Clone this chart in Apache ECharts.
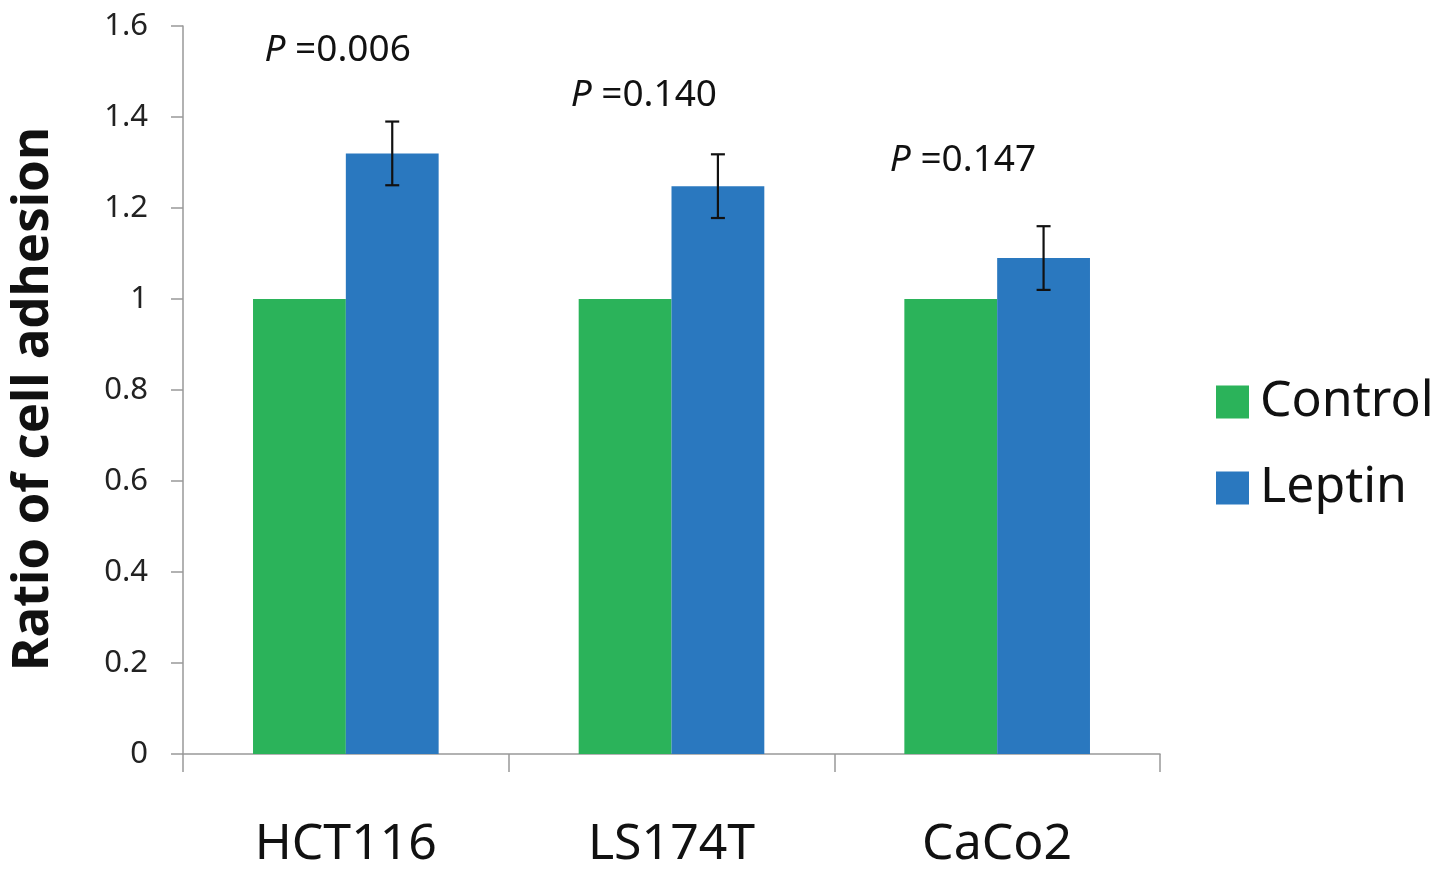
<!DOCTYPE html>
<html><head><meta charset="utf-8">
<script src="https://cdn.jsdelivr.net/npm/echarts@6/dist/echarts.min.js"></script>
<style>html,body{margin:0;padding:0;background:#fff}#c{width:1441px;height:873px}</style>
</head><body><div id="c"></div>
<script>
var categories = ['HCT116', 'LS174T', 'CaCo2'];
var controlValues = [1, 1, 1];
var leptinValues = [1.32, 1.248, 1.09];
var leptinErrors = [0.07, 0.07, 0.07];
var pLabels = ['0.006', '0.140', '0.147'];
var pLabelHeights = [1.547, 1.448, 1.305];
var yTicks = [0, 0.2, 0.4, 0.6, 0.8, 1, 1.2, 1.4, 1.6];

var FONT = '"Noto Sans", "Open Sans", sans-serif';
var GAP = 0.43;
var P_SHIFT = [-0.025, -0.085, -0.105];
var chart = echarts.init(document.getElementById('c'));
var errData = leptinValues.map(function (v, i) { return [i, v - leptinErrors[i], v + leptinErrors[i]]; });
var pData = pLabels.map(function (t, i) { return [i, pLabelHeights[i], t]; });

chart.setOption({
  animation: false,
  grid: { left: 182, right: 281, top: 26, bottom: 119 },
  legend: {
    orient: 'vertical', left: 1211, top: 372,
    itemWidth: 33, itemHeight: 33, itemGap: 36,
    icon: 'rect',
    textStyle: { fontFamily: FONT, fontSize: 50, color: '#111', lineHeight: 50, padding: [0, 0, 0, 6] },
    data: ['Control', 'Leptin']
  },
  xAxis: {
    type: 'category', data: categories,
    axisLine: { lineStyle: { color: '#999', width: 1.5 } },
    axisTick: { show: true, length: 18, lineStyle: { color: '#999', width: 1.5 } },
    axisLabel: { fontFamily: FONT, fontSize: 50, color: '#111', margin: 66 }
  },
  yAxis: {
    type: 'value', min: 0, max: 1.6, interval: 0.2,
    name: 'Ratio of cell adhesion', nameLocation: 'middle', nameGap: 124,
    nameTextStyle: { fontFamily: FONT, fontSize: 51, fontWeight: 'bold', color: '#111', padding: [0, 18, 0, 0] },
    axisLine: { show: true, lineStyle: { color: '#999', width: 1.5 } },
    axisTick: { show: true, length: 12, lineStyle: { color: '#999', width: 1.5 } },
    splitLine: { show: false },
    axisLabel: {
      fontFamily: FONT, fontSize: 31, color: '#222', margin: 35,
      formatter: function (v) { return String(Math.round(v * 10) / 10); }
    }
  },
  series: [
    { name: 'Control', type: 'bar', data: controlValues, barGap: '0%', barCategoryGap: (GAP * 100) + '%',
      itemStyle: { color: '#2bb35a' } },
    { name: 'Leptin', type: 'bar', data: leptinValues, barGap: '0%', barCategoryGap: (GAP * 100) + '%',
      itemStyle: { color: '#2a78bf' } },
    { name: 'err', type: 'custom', data: errData, encode: { x: 0, y: [1, 2] }, z: 10,
      renderItem: function (params, api) {
        var band = api.size([1, 0])[0];
        var off = band * (1 - GAP) / 4;
        var lo = api.coord([api.value(0), api.value(1)]);
        var hi = api.coord([api.value(0), api.value(2)]);
        var x = lo[0] + off, cw = 7;
        var st = { stroke: '#111', lineWidth: 2.2 };
        return { type: 'group', children: [
          { type: 'line', shape: { x1: x, y1: lo[1], x2: x, y2: hi[1] }, style: st },
          { type: 'line', shape: { x1: x - cw, y1: lo[1], x2: x + cw, y2: lo[1] }, style: st },
          { type: 'line', shape: { x1: x - cw, y1: hi[1], x2: x + cw, y2: hi[1] }, style: st }
        ] };
      }
    },
    { name: 'p', type: 'custom', data: pData, encode: { x: 0, y: 1 }, z: 10,
      renderItem: function (params, api) {
        var p = api.coord([api.value(0), api.value(1)]);
        var band = api.size([1, 0])[0];
        return { type: 'text', x: p[0] + band * P_SHIFT[params.dataIndex], y: p[1],
          style: { text: '{i|P} =' + pData[params.dataIndex][2], align: 'center', verticalAlign: 'middle',
            fontFamily: FONT, fontSize: 37, fill: '#111',
            rich: { i: { fontStyle: 'italic', fontFamily: FONT, fontSize: 37, fill: '#111' } } } };
      }
    }
  ]
});
</script></body></html>
